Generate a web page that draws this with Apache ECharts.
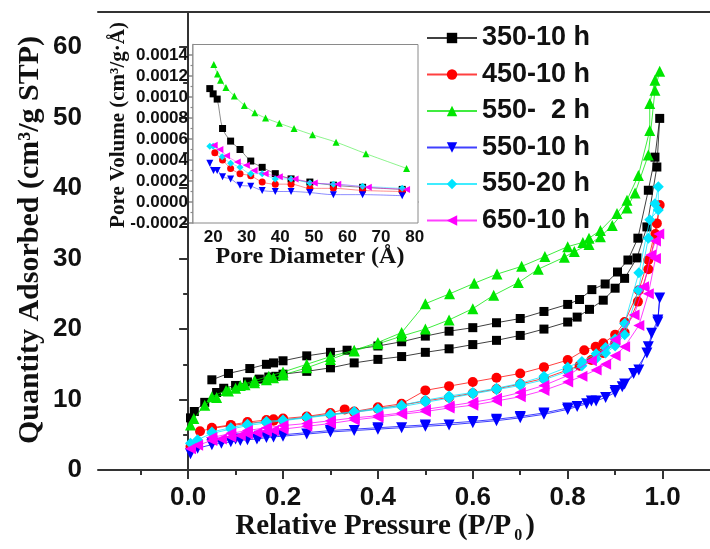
<!DOCTYPE html>
<html>
<head>
<meta charset="utf-8">
<script src="https://cdn.jsdelivr.net/npm/echarts@6.0.0/dist/echarts.min.js"></script>
<style>
  html, body { margin: 0; padding: 0; background: #fff; }
  #chart { width: 710px; height: 549px; }
</style>
</head>
<body>
<div id="chart"></div>
<script>
// ---- N2 isotherms: relative pressure (P/P0) and quantity adsorbed (cm3/g STP)
// adsorption branch (ads) then desorption branch (des) for each sample
const names = ['350-10 h', '450-10 h', '550-  2 h', '550-10 h', '550-20 h', '650-10 h'];

const p350ads = [0.005,0.013,0.035,0.06,0.075,0.1,0.125,0.15,0.17,0.185,0.2,0.25,0.3,0.35,0.4,0.45,0.5,0.55,0.6,0.65,0.7,0.75,0.8,0.82,0.846,0.875,0.9,0.92,0.946,0.967,0.988,0.994];
const q350ads = [7.4,8.3,9.6,11.0,11.6,12.0,12.5,12.9,13.2,13.3,13.6,14.0,14.5,15.2,15.7,16.1,16.7,17.2,17.8,18.4,19.1,20.0,21.0,21.7,22.8,24.1,25.8,27.2,30.1,34.5,43.0,49.9];
const p350des = [0.984,0.97,0.948,0.927,0.905,0.879,0.851,0.825,0.8,0.75,0.7,0.65,0.6,0.55,0.5,0.45,0.4,0.335,0.3,0.25,0.2,0.18,0.165,0.13,0.085,0.05];
const q350des = [44.4,39.7,32.9,29.8,28.1,26.4,25.6,24.2,23.5,22.5,21.5,20.9,20.2,19.7,19.0,18.2,17.6,17.0,16.7,16.2,15.5,15.2,15.0,14.4,13.7,12.8];

const p450ads = [0.005,0.025,0.05,0.09,0.125,0.165,0.18,0.2,0.25,0.3,0.35,0.4,0.45,0.5,0.55,0.6,0.65,0.7,0.75,0.8,0.825,0.85,0.875,0.9,0.92,0.948,0.97,0.985,0.994];
const q450ads = [3.3,5.5,5.9,6.3,6.6,6.9,7.0,7.1,7.5,7.9,8.2,8.7,9.2,9.8,10.3,10.9,11.5,12.2,13.0,14.2,14.8,15.6,16.6,18.0,19.5,23.9,28.5,33.5,37.6];
const p450des = [0.988,0.97,0.95,0.92,0.9,0.875,0.859,0.835,0.8,0.75,0.7,0.65,0.6,0.55,0.5,0.45,0.4,0.35,0.33,0.3,0.25,0.2,0.18,0.165,0.125,0.09,0.05];
const q450des = [35.0,29.8,25.5,21.0,19.2,18.0,17.5,17.0,15.6,14.6,13.7,13.1,12.5,11.9,11.3,9.4,8.9,8.3,8.6,8.1,7.6,7.3,7.2,7.1,6.8,6.4,6.0];

const p550s2ads = [0.005,0.012,0.035,0.06,0.085,0.1,0.12,0.14,0.165,0.18,0.2,0.25,0.3,0.35,0.4,0.45,0.5,0.55,0.6,0.644,0.696,0.738,0.793,0.814,0.845,0.869,0.894,0.925,0.942,0.97,0.984,0.994];
const q550s2ads = [6.4,7.3,9.2,10.3,11.2,11.6,12.1,12.4,12.8,13.1,13.5,14.5,15.7,16.9,17.9,19.0,20.0,21.3,22.9,24.8,26.6,28.5,30.2,31.0,32.0,33.1,34.7,37.2,39.3,44.7,53.9,56.6];
const p550s2des = [0.984,0.973,0.973,0.949,0.925,0.904,0.869,0.845,0.832,0.8,0.752,0.703,0.651,0.603,0.551,0.5,0.45,0.4,0.35,0.3,0.25,0.2,0.17,0.14,0.11,0.08,0.05];
const q550s2des = [55.3,52.0,48.2,41.8,38.3,36.4,34.0,32.9,32.3,31.7,30.3,28.9,27.8,26.5,25.0,23.6,19.5,18.1,17.0,16.1,15.0,13.9,13.3,12.7,12.0,11.3,10.4];

const p55010ads = [0.005,0.02,0.05,0.07,0.09,0.11,0.125,0.145,0.165,0.18,0.2,0.25,0.3,0.35,0.4,0.45,0.5,0.55,0.6,0.65,0.7,0.75,0.8,0.82,0.84,0.86,0.88,0.9,0.915,0.939,0.967,0.977,0.99,0.994];
const q55010ads = [2.3,3.1,3.6,3.8,4.0,4.2,4.3,4.4,4.6,4.7,4.8,5.1,5.4,5.6,5.8,6.0,6.2,6.4,6.7,7.0,7.4,7.9,8.6,9.0,9.4,9.8,10.3,11.0,11.8,13.7,16.6,19.4,21.3,24.4];
const p55010des = [0.99,0.97,0.95,0.92,0.9,0.85,0.8,0.75,0.7,0.65,0.6,0.5,0.4,0.3,0.2,0.15,0.1,0.05];
const q55010des = [21.0,17.5,14.2,12.2,11.3,9.8,8.8,8.1,7.6,7.2,6.9,6.4,6.0,5.6,5.0,4.8,4.4,3.9];

const p55020ads = [0.005,0.02,0.05,0.09,0.125,0.165,0.2,0.25,0.3,0.35,0.4,0.45,0.5,0.55,0.6,0.65,0.7,0.75,0.8,0.83,0.86,0.88,0.9,0.92,0.949,0.97,0.984,0.991];
const q55020ads = [3.8,4.3,5.2,5.8,6.3,6.7,7.0,7.4,7.8,8.2,8.6,9.0,9.6,10.2,10.8,11.4,12.0,12.8,14.0,14.8,15.8,16.6,17.6,19.2,25.5,32.9,37.8,40.2];
const p55020des = [0.991,0.973,0.95,0.92,0.9,0.88,0.86,0.83,0.8,0.75,0.7,0.65,0.6,0.55,0.5,0.45,0.4,0.35,0.3,0.25,0.2,0.165,0.125,0.09,0.05];
const q55020des = [36.9,35.5,28.0,20.8,18.6,17.4,16.5,15.4,14.6,13.3,12.3,11.6,11.0,10.5,9.9,9.2,8.7,8.3,7.9,7.5,7.1,6.9,6.5,6.0,5.4];

const p650ads = [0.005,0.02,0.05,0.07,0.09,0.11,0.125,0.145,0.165,0.18,0.2,0.25,0.3,0.35,0.4,0.45,0.5,0.55,0.6,0.65,0.7,0.75,0.8,0.83,0.86,0.88,0.9,0.92,0.95,0.97,0.985,0.992];
const q650ads = [3.0,3.5,4.2,4.4,4.7,4.9,5.1,5.3,5.5,5.6,5.8,6.2,6.6,7.1,7.5,7.9,8.3,8.8,9.2,9.8,10.4,11.3,12.5,13.3,14.2,15.0,16.2,17.5,20.5,25.0,30.0,33.5];
const p650des = [0.985,0.975,0.96,0.94,0.9,0.85,0.8,0.75,0.7,0.65,0.6,0.55,0.5,0.45,0.4,0.35,0.3,0.25,0.2,0.165,0.125,0.09,0.05];
const q650des = [32.5,30.5,26.0,22.0,18.5,15.5,13.4,12.0,11.0,10.2,9.6,9.1,8.6,8.1,7.7,7.4,7.0,6.6,6.3,6.0,5.6,5.2,4.6];

// ---- pore size distribution (inset): pore diameter (Å) and pore volume (cm3/g·Å)
const d350 = [19.0,20.0,21.2,22.8,25.2,28.0,31.2,34.6,38.5,43.2,48.8,55.8,64.5,76.3];
const v350 = [0.00108,0.00103,0.00098,0.00070,0.00058,0.00050,0.00039,0.00033,0.00027,0.00022,0.00019,0.00016,0.00014,0.00012];
const d450 = [20.5,22.8,25.2,28.0,31.2,34.6,38.5,43.2,48.8,55.8,64.5,76.3];
const v450 = [0.00047,0.00040,0.00032,0.00027,0.00025,0.00019,0.00017,0.00017,0.00013,0.00013,0.00011,0.00010];
const d550s2 = [20.2,21.3,22.2,23.8,26.3,29.3,32.4,35.6,39.7,44.1,49.6,56.6,65.5,77.6];
const v550s2 = [0.00131,0.00122,0.00116,0.00109,0.00101,0.00092,0.00085,0.00080,0.00075,0.00070,0.00064,0.00057,0.00046,0.00032];
const d55010 = [19.0,20.1,21.2,22.8,25.2,28.0,31.2,34.6,38.5,43.2,48.8,55.8,64.5,76.3];
const v55010 = [0.00037,0.00030,0.00030,0.00024,0.00022,0.00016,0.00015,0.00011,0.00010,0.00010,0.00009,0.00007,0.00007,0.00006];
const d55020 = [19.0,20.0,22.7,25.2,28.0,31.2,34.6,38.5,43.2,48.8,55.8,64.5,76.3];
const v55020 = [0.00053,0.00053,0.00043,0.00037,0.00033,0.00027,0.00027,0.00022,0.00022,0.00018,0.00017,0.00015,0.00013];
const d650 = [20.3,22.0,24.0,27.2,29.9,32.2,35.5,39.7,44.4,50.1,57.1,66.2,77.6];
const v650 = [0.00054,0.00050,0.00044,0.00038,0.00035,0.00030,0.00027,0.00024,0.00022,0.00018,0.00017,0.00014,0.00012];

// ---- tick positions
const xMainLabels = [0, 0.2, 0.4, 0.6, 0.8, 1.0];
const xMainMinor = [-0.1, 0.1, 0.3, 0.5, 0.7, 0.9];
const yMainLabels = [0, 10, 20, 30, 40, 50, 60];
const yMainMinor = [5, 15, 25, 35, 45, 55];
const xInsetLabels = [20, 30, 40, 50, 60, 70, 80];
const xInsetMinor = [15, 25, 35, 45, 55, 65, 75];
const yInsetLabels = [-0.0002, 0, 0.0002, 0.0004, 0.0006, 0.0008, 0.0010, 0.0012, 0.0014];
const yInsetMinor = [-0.0001, 0.0001, 0.0003, 0.0005, 0.0007, 0.0009, 0.0011, 0.0013];

// ---- look of each sample
const colors = ['#000000', '#ff0000', '#00e600', '#0000ff', '#00e5ff', '#ff00ff'];
const symbols = ['rect', 'circle', 'triangle', 'triangle', 'diamond', 'triangle'];
const rotations = [0, 0, 0, 180, 0, 90];
const sizes = [9, 10, 11, 11, 11, 11];

const pairs = (xs, ys) => xs.map((x, i) => [x, ys[i]]);
const iso = [
  pairs(p350ads, q350ads).concat(pairs(p350des, q350des)),
  pairs(p450ads, q450ads).concat(pairs(p450des, q450des)),
  pairs(p550s2ads, q550s2ads).concat(pairs(p550s2des, q550s2des)),
  pairs(p55010ads, q55010ads).concat(pairs(p55010des, q55010des)),
  pairs(p55020ads, q55020ads).concat(pairs(p55020des, q55020des)),
  pairs(p650ads, q650ads).concat(pairs(p650des, q650des))
];
const psd = [
  pairs(d350, v350), pairs(d450, v450), pairs(d550s2, v550s2),
  pairs(d55010, v55010), pairs(d55020, v55020), pairs(d650, v650)
];

const sans = 'Liberation Sans, Arial, sans-serif';
const serif = 'Liberation Serif, Times New Roman, serif';
const axisColor = '#333';
const insetAxisColor = '#8a8a8a';

const series = [];
names.forEach((n, i) => {
  series.push({
    name: n, type: 'line', xAxisIndex: 0, yAxisIndex: 0,
    data: iso[i],
    symbol: symbols[i], symbolSize: sizes[i], symbolRotate: rotations[i],
    itemStyle: { color: colors[i] },
    lineStyle: { color: colors[i], width: 1, opacity: 0.75 },
    z: 3 + i
  });
});
names.forEach((n, i) => {
  series.push({
    name: n, type: 'line', xAxisIndex: 3, yAxisIndex: 3,
    data: psd[i], smooth: 0.3,
    symbol: symbols[i], symbolSize: 7, symbolRotate: rotations[i],
    itemStyle: { color: colors[i] },
    lineStyle: { color: colors[i], width: 1, opacity: 0.45 },
    z: 10 + i
  });
});

const chart = echarts.init(document.getElementById('chart'), null, { renderer: 'canvas' });
chart.setOption({
  animation: false,
  backgroundColor: '#fff',
  grid: [
    { left: 98, top: 12, width: 621, height: 458 },                   // main plot
    { left: 98, top: 12, width: 621, height: 458 },                   // main minor ticks
    { left: 193, top: 44.5, width: 225, height: 178.5, show: true,
      backgroundColor: '#fff', borderColor: insetAxisColor, borderWidth: 1, z: 1 },   // inset
    { left: 193, top: 44.5, width: 225, height: 178.5 }               // inset minor ticks
  ],
  xAxis: [
    { gridIndex: 0, type: 'value', min: -0.19, max: 1.1, position: 'bottom',
      axisLine: { lineStyle: { color: axisColor, width: 2 } },
      axisTick: { customValues: xMainLabels, length: 9, lineStyle: { color: axisColor, width: 2 } },
      axisLabel: { customValues: xMainLabels, margin: 15, formatter: v => v.toFixed(1),
        fontSize: 26, fontWeight: 'bold', fontFamily: sans, color: '#111' },
      splitLine: { show: false } },
    { gridIndex: 0, type: 'value', min: -0.19, max: 1.1, position: 'top',
      axisLine: { lineStyle: { color: axisColor, width: 2 } },
      axisTick: { show: false }, axisLabel: { show: false }, splitLine: { show: false } },
    { gridIndex: 1, type: 'value', min: -0.19, max: 1.1, position: 'bottom',
      axisLine: { show: false },
      axisTick: { customValues: xMainMinor, length: 5, lineStyle: { color: axisColor, width: 2 } },
      axisLabel: { show: false }, splitLine: { show: false } },
    { gridIndex: 2, type: 'value', min: 14, max: 81, position: 'bottom',
      axisLine: { lineStyle: { color: insetAxisColor, width: 1.5 } },
      axisTick: { customValues: xInsetLabels, length: 4, lineStyle: { color: insetAxisColor, width: 1.5 } },
      axisLabel: { customValues: xInsetLabels, margin: 6,
        fontSize: 17, fontWeight: 'bold', fontFamily: sans, color: '#111' },
      splitLine: { show: false } },
    { gridIndex: 3, type: 'value', min: 14, max: 81, position: 'bottom',
      axisLine: { show: false },
      axisTick: { customValues: xInsetMinor, length: 2.5, lineStyle: { color: insetAxisColor, width: 1.2 } },
      axisLabel: { show: false }, splitLine: { show: false } }
  ],
  yAxis: [
    { gridIndex: 0, type: 'value', min: 0, max: 65, position: 'left',
      axisLine: { lineStyle: { color: axisColor, width: 2 } },
      axisTick: { customValues: yMainLabels, length: 9, lineStyle: { color: axisColor, width: 2 } },
      axisLabel: { customValues: yMainLabels, margin: 16,
        fontSize: 26, fontWeight: 'bold', fontFamily: sans, color: '#111' },
      splitLine: { show: false } },
    { gridIndex: 1, type: 'value', min: 0, max: 65, position: 'left',
      axisLine: { show: false },
      axisTick: { customValues: yMainMinor, length: 5, lineStyle: { color: axisColor, width: 2 } },
      axisLabel: { show: false }, splitLine: { show: false } },
    { gridIndex: 3, type: 'value', min: -0.0002, max: 0.0015, position: 'left',
      axisLine: { show: false },
      axisTick: { customValues: yInsetMinor, length: 2.5, lineStyle: { color: insetAxisColor, width: 1.2 } },
      axisLabel: { show: false }, splitLine: { show: false } },
    { gridIndex: 2, type: 'value', min: -0.0002, max: 0.0015, position: 'left',
      axisLine: { lineStyle: { color: insetAxisColor, width: 1.5 } },
      axisTick: { customValues: yInsetLabels, length: 4, lineStyle: { color: insetAxisColor, width: 1.5 } },
      axisLabel: { customValues: yInsetLabels, margin: 5, formatter: v => v.toFixed(4),
        fontSize: 17, fontWeight: 'bold', fontFamily: sans, color: '#111' },
      splitLine: { show: false } }
  ],
  legend: {
    orient: 'vertical', left: 421, top: 18,
    itemWidth: 50, itemHeight: 13, itemGap: 6.5,
    data: names,
    textStyle: { fontSize: 27, fontWeight: 'bold', fontFamily: sans, color: '#111', lineHeight: 30 }
  },
  graphic: [
    { type: 'text', x: 30, y: 240, rotation: Math.PI / 2,
      style: { text: 'Quantity Adsorbed (cm³/g STP)', font: 'bold 30px ' + serif,
        fill: '#111', align: 'center', verticalAlign: 'middle' } },
    { type: 'text', x: 385, y: 527,
      style: { text: '{a|Relative Pressure (P/P}{s|0}{a|)}',
        align: 'center', verticalAlign: 'middle', fill: '#111',
        rich: {
          a: { font: 'bold 29px ' + serif, fill: '#111', lineHeight: 34 },
          s: { font: 'bold 16px ' + serif, fill: '#111', verticalAlign: 'bottom', lineHeight: 16, padding: [0, 3, 0, 3] }
        } } },
    { type: 'text', x: 119, y: 125, rotation: Math.PI / 2,
      style: { text: 'Pore Volume (cm³/g·Å)', font: 'bold 21px ' + serif,
        fill: '#111', align: 'center', verticalAlign: 'middle' } },
    { type: 'text', x: 310, y: 257,
      style: { text: 'Pore Diameter (Å)', font: 'bold 24px ' + serif,
        fill: '#111', align: 'center', verticalAlign: 'middle' } }
  ],
  series: series
});
</script>
</body>
</html>
